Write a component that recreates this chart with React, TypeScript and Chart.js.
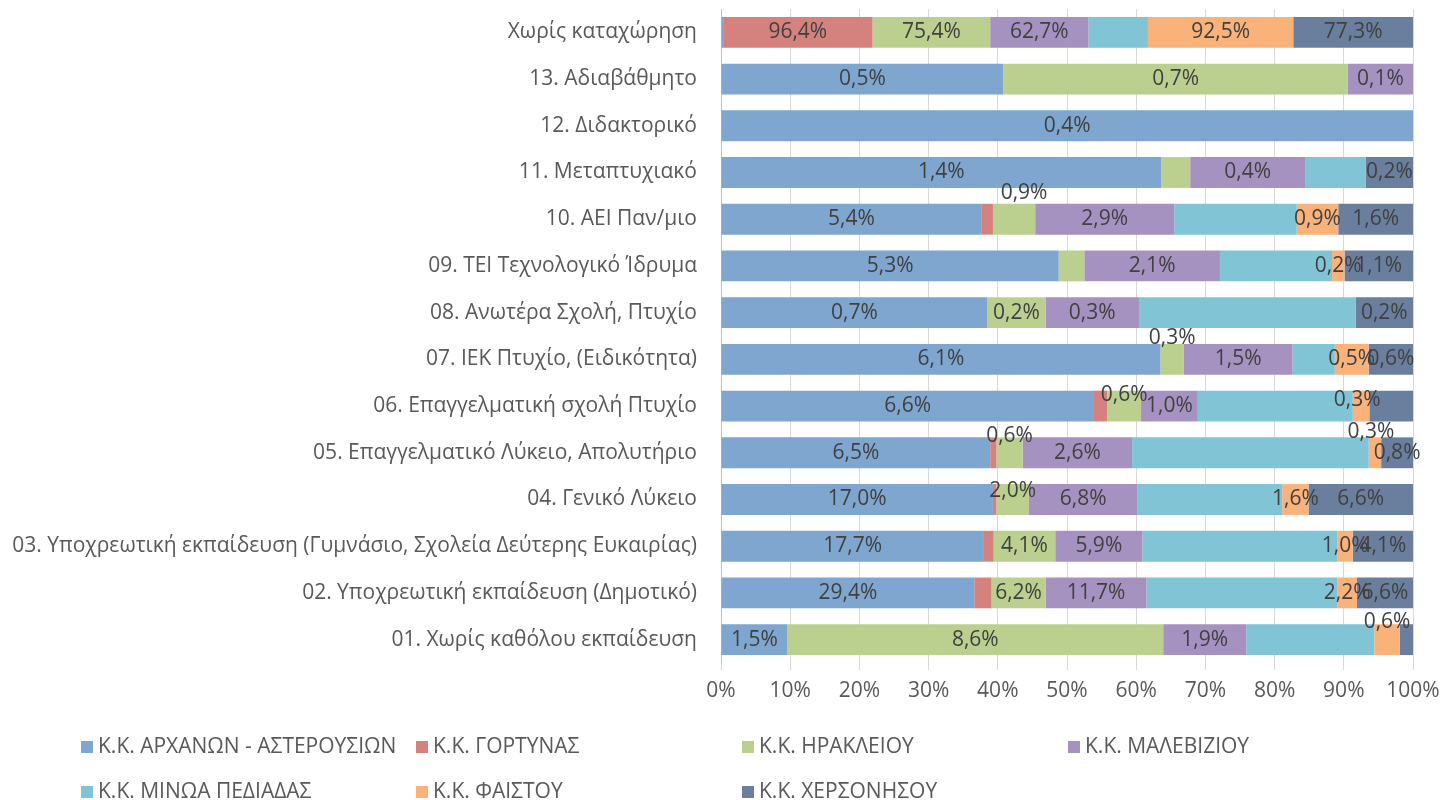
import React, { useEffect, useRef } from "react";
import { Chart, registerables } from "chart.js";
Chart.register(...registerables);

const categories = [
  "Χωρίς καταχώρηση",
  "13. Αδιαβάθμητο",
  "12. Διδακτορικό",
  "11. Μεταπτυχιακό",
  "10. ΑΕΙ Παν/μιο",
  "09. ΤΕΙ Τεχνολογικό Ίδρυμα",
  "08. Ανωτέρα Σχολή, Πτυχίο",
  "07. ΙΕΚ Πτυχίο, (Ειδικότητα)",
  "06. Επαγγελματική σχολή Πτυχίο",
  "05. Επαγγελματικό Λύκειο, Απολυτήριο",
  "04. Γενικό Λύκειο",
  "03. Υποχρεωτική εκπαίδευση (Γυμνάσιο, Σχολεία Δεύτερης Ευκαιρίας)",
  "02. Υποχρεωτική εκπαίδευση (Δημοτικό)",
  "01. Χωρίς καθόλου εκπαίδευση",
];

const seriesNames = [
  "Κ.Κ. ΑΡΧΑΝΩΝ - ΑΣΤΕΡΟΥΣΙΩΝ",
  "Κ.Κ. ΓΟΡΤΥΝΑΣ",
  "Κ.Κ. ΗΡΑΚΛΕΙΟΥ",
  "Κ.Κ. ΜΑΛΕΒΙΖΙΟΥ",
  "Κ.Κ. ΜΙΝΩΑ ΠΕΔΙΑΔΑΣ",
  "Κ.Κ. ΦΑΙΣΤΟΥ",
  "Κ.Κ. ΧΕΡΣΟΝΗΣΟΥ",
];

// Row shares (% of each bar)
const archanon = [0.3, 40.8, 100, 63.6, 37.6, 48.8, 38.5, 63.5, 53.9, 38.9, 39.3, 38.0, 36.6, 9.6];
const gortynas = [21.6, 0, 0, 0, 1.7, 0, 0, 0, 1.9, 0.9, 0.5, 1.4, 2.5, 0];
const irakleiou = [17.0, 49.8, 0, 4.2, 6.1, 3.7, 8.4, 3.4, 4.9, 3.8, 4.7, 8.9, 7.8, 54.3];
const malevizioy = [14.2, 9.4, 0, 16.6, 20.1, 19.6, 13.5, 15.7, 8.2, 15.8, 15.7, 12.6, 14.6, 12.0];
const minoa = [8.6, 0, 0, 8.8, 17.7, 16.2, 31.3, 6.1, 22.4, 34.2, 20.9, 28.2, 27.6, 18.5];
const faistou = [21.0, 0, 0, 0, 6.0, 1.8, 0, 4.9, 2.4, 1.8, 3.8, 2.2, 2.8, 3.7];
const chersonisou = [17.3, 0, 0, 6.8, 10.8, 9.9, 8.3, 6.4, 6.3, 4.6, 15.1, 8.7, 8.1, 1.9];

// Data label texts
const archanonLabels = ["", "0,5%", "0,4%", "1,4%", "5,4%", "5,3%", "0,7%", "6,1%", "6,6%", "6,5%", "17,0%", "17,7%", "29,4%", "1,5%"];
const gortynasLabels = ["96,4%", "", "", "", "", "", "", "", "", "", "", "", "", ""];
const irakleiouLabels = ["75,4%", "0,7%", "", "", "0,9%", "", "0,2%", "0,3%", "0,6%", "0,6%", "2,0%", "4,1%", "6,2%", "8,6%"];
const maleviziouLabels = ["62,7%", "0,1%", "", "0,4%", "2,9%", "2,1%", "0,3%", "1,5%", "1,0%", "2,6%", "6,8%", "5,9%", "11,7%", "1,9%"];
const minoaLabels = ["", "", "", "", "", "", "", "", "", "", "", "", "", ""];
const faistouLabels = ["92,5%", "", "", "", "0,9%", "0,2%", "", "0,5%", "0,3%", "0,3%", "1,6%", "1,0%", "2,2%", "0,6%"];
const chersonisouLabels = ["77,3%", "", "", "0,2%", "1,6%", "1,1%", "0,2%", "0,6%", "", "0,8%", "6,6%", "4,1%", "6,6%", ""];

const xTicks = [0, 10, 20, 30, 40, 50, 60, 70, 80, 90, 100];

const seriesValues = [archanon, gortynas, irakleiou, malevizioy, minoa, faistou, chersonisou];
const seriesLabels = [archanonLabels, gortynasLabels, irakleiouLabels, maleviziouLabels, minoaLabels, faistouLabels, chersonisouLabels];
const colors = ["#7FA6CF", "#D5827F", "#BBD08E", "#A692C0", "#80C4D6", "#F9B27A", "#6A7F9D"];

// manual label nudges (dataset:row -> [dx, dy])
const labelNudge: Record<string, [number, number]> = {
  "2:4": [10, -26],
  "2:7": [0, -21],
  "2:8": [0, -11],
  "5:8": [-4, -6],
  "2:9": [0, -17],
  "5:9": [-4, -21],
  "2:10": [0, -8],
  "5:13": [0, -18],
};

const FONT = "'Open Sans', sans-serif";
const FSIZE = 21;
const TEXT = "#595959";

const dataLabelPlugin = {
  id: "dataLabels",
  afterDatasetsDraw(chart: any) {
    const ctx = chart.ctx;
    ctx.save();
    ctx.font = `${FSIZE}px ${FONT}`;
    ctx.fillStyle = "#404040";
    ctx.textAlign = "center";
    ctx.textBaseline = "middle";
    chart.data.datasets.forEach((ds: any, di: number) => {
      const meta = chart.getDatasetMeta(di);
      meta.data.forEach((el: any, i: number) => {
        const txt = seriesLabels[di][i];
        if (!txt) return;
        const nudge = labelNudge[`${di}:${i}`] || [0, 0];
        const cx = (el.x + el.base) / 2 + nudge[0];
        const cy = el.y + nudge[1];
        ctx.fillText(txt, cx, cy);
      });
    });
    ctx.restore();
  },
};

const legendPlugin = {
  id: "customLegend",
  afterDraw(chart: any) {
    const ctx = chart.ctx;
    ctx.save();
    ctx.font = `${FSIZE}px ${FONT}`;
    ctx.textBaseline = "middle";
    ctx.textAlign = "left";
    const colX = [81, 416, 742, 1068];
    const rowY = [747, 792];
    seriesNames.forEach((name, i) => {
      const col = i < 4 ? i : i - 4;
      const row = i < 4 ? 0 : 1;
      const x = colX[col];
      const y = rowY[row];
      ctx.fillStyle = colors[i];
      ctx.fillRect(x, y - 6, 12, 12);
      ctx.fillStyle = TEXT;
      ctx.fillText(name, x + 17, y);
    });
    ctx.restore();
  },
};

export default function App() {
  const ref = useRef<HTMLCanvasElement>(null);
  useEffect(() => {
    document.body.style.margin = "0";
    const canvas = ref.current!;
    const chart = new Chart(canvas, {
      type: "bar",
      data: {
        labels: categories,
        datasets: seriesValues.map((vals, i) => ({
          label: seriesNames[i],
          data: vals,
          backgroundColor: colors[i],
          borderWidth: 0,
          barPercentage: 0.66,
          categoryPercentage: 1,
        })),
      },
      options: {
        indexAxis: "y",
        responsive: false,
        animation: false,
        devicePixelRatio: 1,
        layout: { padding: { top: 9, right: 28, bottom: 87, left: 0 } },
        scales: {
          x: {
            stacked: true,
            min: 0,
            max: 100,
            afterBuildTicks: (s: any) => {
              s.ticks = xTicks.map((v) => ({ value: v }));
            },
            afterFit: (s: any) => {
              s.height = 50;
              s.paddingLeft = 0;
              s.paddingRight = 0;
            },
            ticks: {
              callback: (v: any) => v + "%",
              color: TEXT,
              font: { family: FONT, size: FSIZE },
              padding: 8,
              maxRotation: 0,
            },
            grid: { color: "#D9D9D9", lineWidth: 1, tickLength: 7, drawTicks: true },
            border: { display: false },
          },
          y: {
            stacked: true,
            afterFit: (s: any) => {
              s.width = 721;
              s.paddingTop = 0;
              s.paddingBottom = 0;
            },
            ticks: {
              color: TEXT,
              font: { family: FONT, size: FSIZE },
              padding: 24,
              autoSkip: false,
            },
            grid: { drawOnChartArea: false, drawTicks: false },
            border: { display: true, color: "#BFBFBF", width: 1 },
          },
        },
        plugins: {
          legend: { display: false },
          tooltip: { enabled: false },
        },
      } as any,
      plugins: [dataLabelPlugin, legendPlugin],
    });
    return () => chart.destroy();
  }, []);
  return <canvas ref={ref} width={1441} height={800} style={{ display: "block" }} />;
}
